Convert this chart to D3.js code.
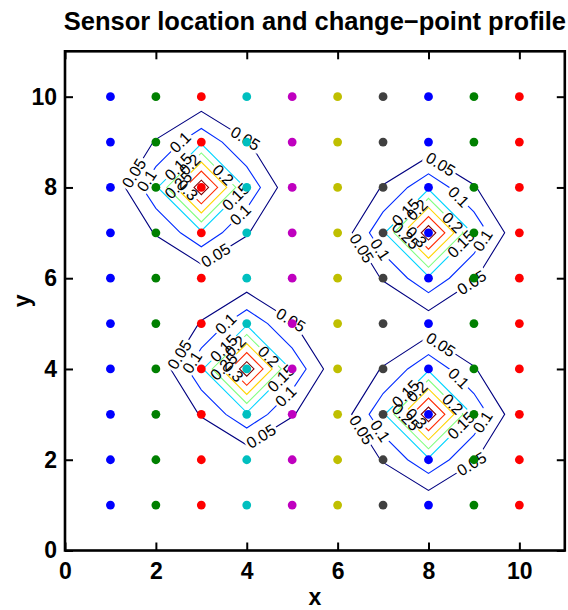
<!DOCTYPE html>
<html>
<head>
<meta charset="utf-8">
<script src="https://cdn.jsdelivr.net/npm/d3@7"></script>
<style>
  body { margin: 0; background: #fff; }
  svg { font-family: "Liberation Sans", Arial, Helvetica, sans-serif; }
</style>
</head>
<body>
<div id="chart"></div>
<script>

// sensor grid
var sensorX = [1, 2, 3, 4, 5, 6, 7, 8, 9, 10];
var sensorY = [1, 2, 3, 4, 5, 6, 7, 8, 9, 10];
// one colour per sensor column (old matlab colour order)
var columnColors = ["#0000ff", "#008000", "#ff0000", "#00bfbf", "#bf00bf",
                    "#bfbf00", "#404040", "#0000ff", "#008000", "#ff0000"];

// change-point profile value at every sensor, rows from y = 10 down to y = 1
var profileRows = [
  [0.0001, 0.0026, 0.007,  0.0026, 0.0001, 0,      0,      0,     0,      0],
  [0.0026, 0.053,  0.14,   0.053,  0.0026, 0.0001, 0.0026, 0.007, 0.0026, 0.0001],
  [0.007,  0.14,   0.39,   0.14,   0.007,  0.0026, 0.053,  0.14,  0.053,  0.0026],
  [0.0026, 0.053,  0.14,   0.053,  0.0026, 0.007,  0.14,   0.39,  0.14,   0.007],
  [0.0001, 0.0027, 0.0096, 0.0096, 0.0027, 0.0027, 0.053,  0.14,  0.053,  0.0026],
  [0,      0.0026, 0.053,  0.14,   0.053,  0.0028, 0.0052, 0.014, 0.0052, 0.0002],
  [0,      0.007,  0.14,   0.39,   0.14,   0.0096, 0.053,  0.14,  0.053,  0.0026],
  [0,      0.0026, 0.053,  0.14,   0.053,  0.0096, 0.14,   0.39,  0.14,   0.007],
  [0,      0.0001, 0.0026, 0.007,  0.0026, 0.0027, 0.053,  0.14,  0.053,  0.0026],
  [0,      0,      0,      0,      0,      0.0001, 0.0026, 0.007, 0.0026, 0.0001]
];

var levels = [0.05, 0.1, 0.15, 0.2, 0.25, 0.3, 0.35];
var peaks = [[3, 8], [8, 7], [4, 4], [8, 3]];

var xTicks = [0, 2, 4, 6, 8, 10];
var yTicks = [0, 2, 4, 6, 8, 10];

// where clabel put the inline labels (degrees round each peak)
var labelAnglesA = [[48, 168, 282], [115, 173, 325], [138, 345], [117, 30], [174], [190], []];
var labelAnglesB = [[80, 193, 311], [50, 199, 352], [138, 341], [117, 23], [187], [199], []];
var peakLabelSet = [labelAnglesA, labelAnglesB, labelAnglesA, labelAnglesB];


var W = 568, H = 610;
var x = d3.scaleLinear().domain([0, 11]).range([65, 564.8]);
var y = d3.scaleLinear().domain([0, 11]).range([550.5, 51.3]);

var svg = d3.select("#chart").append("svg")
    .attr("width", W)
    .attr("height", H);

// jet colormap across the contour levels
function jet(t) {
  function c(v) { return Math.round(255 * Math.max(0, Math.min(1, v))); }
  return d3.rgb(c(1.5 - Math.abs(4 * t - 3)), c(1.5 - Math.abs(4 * t - 2)), c(1.5 - Math.abs(4 * t - 1))).toString();
}
var levelColor = function(v) {
  return jet((v - levels[0]) / (levels[levels.length - 1] - levels[0]));
};

// contours
var values = [];
profileRows.slice().reverse().forEach(function(r) { values = values.concat(r); });

var contours = d3.contours()
    .size([sensorX.length, sensorY.length])
    .thresholds(levels)(values);

// contour coords: node i sits at i + 0.5, sensor i sits at i + 1
var proj = d3.geoTransform({
  point: function(px, py) { this.stream.point(x(px + 0.5), y(py + 0.5)); }
});
var path = d3.geoPath(proj);

function toPix(pt) { return [x(pt[0] + 0.5), y(pt[1] + 0.5)]; }

function rayHit(ring, cx, cy, deg) {
  var a = deg * Math.PI / 180, dx = Math.cos(a), dy = -Math.sin(a);
  var best = null;
  for (var i = 0; i < ring.length - 1; i++) {
    var p = ring[i], q = ring[i + 1];
    var ex = q[0] - p[0], ey = q[1] - p[1];
    var den = dx * ey - dy * ex;
    if (Math.abs(den) < 1e-9) continue;
    var wx = p[0] - cx, wy = p[1] - cy;
    var t = (wx * ey - wy * ex) / den;
    var s = (wx * dy - wy * dx) / den;
    if (t > 0 && s >= 0 && s <= 1 && (!best || t < best.t)) {
      best = { t: t, x: cx + t * dx, y: cy + t * dy, ang: Math.atan2(ey, ex) * 180 / Math.PI };
    }
  }
  return best;
}

// collect label spots
var labels = [];
contours.forEach(function(c, li) {
  c.coordinates.forEach(function(poly) {
    var ring = poly[0].map(toPix);
    var mx = d3.mean(ring, function(d) { return d[0]; }),
        my = d3.mean(ring, function(d) { return d[1]; });
    var pk = d3.minIndex(peaks, function(p) {
      return Math.hypot(x(p[0]) - mx, y(p[1]) - my);
    });
    var cx = x(peaks[pk][0]), cy = y(peaks[pk][1]);
    peakLabelSet[pk][li].forEach(function(deg) {
      var h = rayHit(ring, cx, cy, deg);
      if (!h) return;
      var ang = h.ang;
      if (ang > 90) ang -= 180;
      if (ang < -90) ang += 180;
      labels.push({ level: li, x: h.x, y: h.y, ang: ang, text: String(c.value) });
    });
  });
});

var defs = svg.append("defs");
var lineG = svg.append("g");
var labelG = svg.append("g");

var lt = labelG.selectAll("text")
  .data(labels)
  .enter().append("text")
    .attr("transform", function(d) { return "translate(" + d.x + "," + d.y + ") rotate(" + d.ang + ")"; })
    .attr("text-anchor", "middle")
    .attr("dy", "0.35em")
    .style("font-size", "16px")
    .attr("fill", "#000")
    .text(function(d) { return d.text; });

lt.each(function(d) { d.w = this.getComputedTextLength(); });

// cut the line under each label, like clabel does
levels.forEach(function(v, li) {
  var m = defs.append("mask")
      .attr("id", "cut" + li)
      .attr("maskUnits", "userSpaceOnUse")
      .attr("x", 0).attr("y", 0).attr("width", W).attr("height", H);
  m.append("rect").attr("width", W).attr("height", H).attr("fill", "#fff");
  labels.filter(function(d) { return d.level === li; }).forEach(function(d) {
    m.append("rect")
      .attr("x", -d.w / 2 - 2).attr("y", -7)
      .attr("width", d.w + 4).attr("height", 14)
      .attr("transform", "translate(" + d.x + "," + d.y + ") rotate(" + d.ang + ")")
      .attr("fill", "#000");
  });
});

lineG.selectAll("path")
  .data(contours)
  .enter().append("path")
    .attr("d", path)
    .attr("fill", "none")
    .attr("stroke", function(d) { return levelColor(d.value); })
    .attr("stroke-width", 1.1)
    .attr("mask", function(d, i) { return "url(#cut" + i + ")"; });

// sensors
var sensors = [];
sensorY.forEach(function(sy) {
  sensorX.forEach(function(sx, i) { sensors.push({ x: sx, y: sy, c: columnColors[i] }); });
});

svg.append("g").selectAll("circle")
  .data(sensors)
  .enter().append("circle")
    .attr("cx", function(d) { return x(d.x); })
    .attr("cy", function(d) { return y(d.y); })
    .attr("r", 4.4)
    .attr("fill", function(d) { return d.c; });

// axes
function styleAxis(g) {
  g.select(".domain").remove();
  g.selectAll(".tick line").attr("stroke", "#000").attr("stroke-width", 2);
  g.selectAll("text")
    .attr("fill", "#000")
    .style("font-size", "23px")
    .style("font-weight", "bold")
    .style("font-family", "'Liberation Sans', Arial, sans-serif");
}

svg.append("g")
  .attr("transform", "translate(0," + y(0) + ")")
  .call(d3.axisBottom(x).tickValues(xTicks).tickSize(-8).tickPadding(12.5).tickFormat(d3.format("d")))
  .call(styleAxis);
svg.append("g")
  .attr("transform", "translate(0," + y(11) + ")")
  .call(d3.axisTop(x).tickValues(xTicks).tickSize(-8).tickFormat(""))
  .call(styleAxis);
svg.append("g")
  .attr("transform", "translate(" + x(0) + ",0)")
  .call(d3.axisLeft(y).tickValues(yTicks).tickSize(-8).tickPadding(8).tickFormat(d3.format("d")))
  .call(styleAxis);
svg.append("g")
  .attr("transform", "translate(" + x(11) + ",0)")
  .call(d3.axisRight(y).tickValues(yTicks).tickSize(-8).tickFormat(""))
  .call(styleAxis);

svg.append("rect")
  .attr("x", x(0)).attr("y", y(11))
  .attr("width", x(11) - x(0)).attr("height", y(0) - y(11))
  .attr("fill", "none")
  .attr("stroke", "#000")
  .attr("stroke-width", 2.6);

svg.append("text")
  .attr("x", (x(0) + x(11)) / 2)
  .attr("y", 30)
  .attr("text-anchor", "middle")
  .style("font-size", "25.5px")
  .style("font-weight", "bold")
  .text("Sensor location and change\u2212point profile");

svg.append("text")
  .attr("x", (x(0) + x(11)) / 2)
  .attr("y", 605)
  .attr("text-anchor", "middle")
  .style("font-size", "23px")
  .style("font-weight", "bold")
  .text("x");

svg.append("text")
  .attr("transform", "translate(30," + (y(0) + y(11)) / 2 + ") rotate(-90)")
  .attr("text-anchor", "middle")
  .style("font-size", "23px")
  .style("font-weight", "bold")
  .text("y");

</script>
</body>
</html>
